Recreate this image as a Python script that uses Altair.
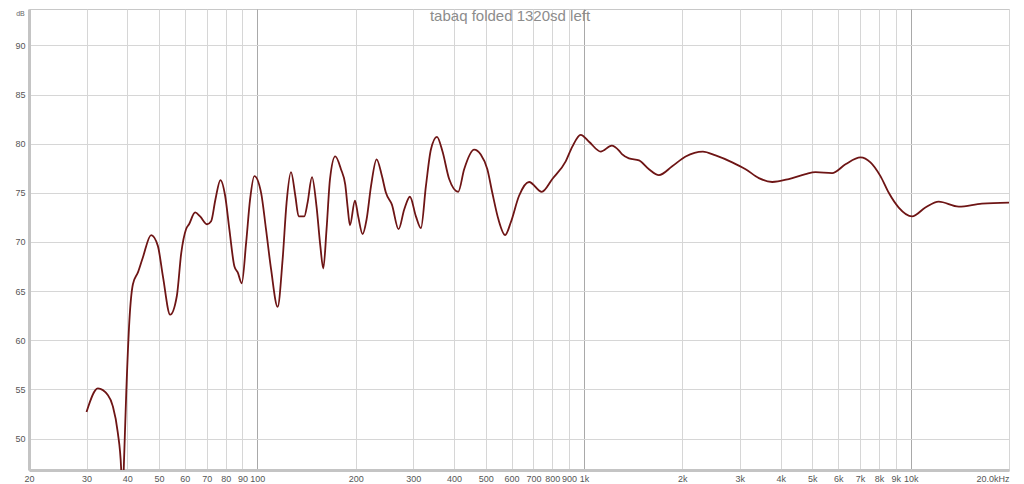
import altair as alt
import pandas as pd

# Frequency response
freq_hz = [30.0, 32.5, 34.9, 36.1, 37.4, 38.3, 38.65, 39.0, 39.7, 40.6, 41.6, 43.1, 44.6, 47.3, 49.6,
           51.4, 54.1, 56.7, 58.5, 60.5, 61.8, 64.5, 66.8, 70.2, 72.2, 74.4, 77.1, 79.7, 82.1, 85.1,
           87.1, 89.6, 92.4, 95.0, 97.9, 102.7, 106.3, 110.2, 115.4, 119.5, 122.9, 126.8, 130.7, 133.8,
           139.2, 142.5, 147, 151.8, 155.9, 159.2, 162.9, 166.9, 173.2, 180.3, 185.9, 188.9, 192.1, 199,
           203.6, 210, 216, 222.9, 231.8, 240.7, 247.6, 258.2, 270.6, 281.6, 293.2, 305.8, 316.8, 328.2,
           339.9, 354.7, 368.9, 386.6, 412, 429.7, 461, 483, 506, 524, 547, 573.6, 597, 632.8, 679,
           742.6, 800, 879, 921, 977, 1036, 1125, 1216, 1280, 1310, 1373, 1474, 1581, 1696, 1862, 2047,
           2312, 2528, 2843, 3124, 3430, 3768, 4236, 4767, 5112, 5746, 6316, 7022, 7532, 8082, 8570,
           9193, 10098, 11092, 12184, 14030, 16526, 20000]
level_db = [52.7, 55.1, 54.4, 53.3, 50.6, 46.9, 42.0, 46.9, 54.7, 62.1, 65.7, 66.9, 68.4, 70.7, 69.6,
            66.5, 62.6, 64.5, 68.9, 71.3, 71.8, 73.0, 72.6, 71.8, 72.1, 74.3, 76.3, 74.7, 71.3, 67.5,
            66.9, 65.8, 69.9, 74.3, 76.7, 75.0, 71.3, 67.2, 63.4, 68.2, 74.0, 77.1, 74.7, 72.6,
            72.6, 74.0, 76.6, 73.6, 69.6, 67.3, 71.3, 76.4, 78.7, 77.4, 75.8, 73.6, 71.7, 74.2,
            72.6, 70.8, 72.3, 75.7, 78.4, 76.7, 75.0, 73.8, 71.3, 73.3, 74.6, 72.6, 71.4, 75.7,
            79.4, 80.7, 79.2, 76.4, 75.1, 77.4, 79.4, 78.9, 77.4, 75.0, 72.3, 70.7, 72.0, 74.7, 76.1,
            75.1, 76.4, 78.2, 79.7, 80.9, 80.2, 79.2, 79.8, 79.3, 78.9, 78.5, 78.3, 77.4, 76.8, 77.7, 78.7,
            79.2, 78.8, 78.1, 77.4, 76.5, 76.1, 76.4, 76.9, 77.1, 77.0, 77.9, 78.6, 78.1, 76.7, 75.0,
            73.5, 72.6, 73.5, 74.1, 73.6, 73.9, 74.0]

x_tick_values = [20, 30, 40, 50, 60, 70, 80, 90, 100, 200, 300, 400, 500, 600, 700, 800, 900,
                 1000, 2000, 3000, 4000, 5000, 6000, 7000, 8000, 9000, 10000, 20000]
x_tick_labels = ["20", "30", "40", "50", "60", "70", "80", "90", "100", "200", "300", "400", "500",
                 "600", "700", "800", "900", "1k", "2k", "3k", "4k", "5k", "6k", "7k", "8k", "9k",
                 "10k", "20.0kHz"]
y_tick_values = [50, 55, 60, 65, 70, 75, 80, 85, 90]
major_lines = [100, 1000, 10000]

title_text = ["tabaq folded 1320sd left"]

df = pd.DataFrame({"f": freq_hz, "db": level_db})
title_df = pd.DataFrame({"t": title_text})

label_expr = "''"
for v, lab in zip(reversed(x_tick_values), reversed(x_tick_labels)):
    label_expr = f"datum.value == {v} ? '{lab}' : ({label_expr})"

major_test = " || ".join(f"datum.value == {v}" for v in major_lines)

FONT = "Liberation Sans Narrow, Liberation Sans, Arial, sans-serif"

line = alt.Chart(df).mark_line(
    color="#6e1515", strokeWidth=1.8, interpolate="monotone", clip=True
).encode(
    x=alt.X("f:Q",
            scale=alt.Scale(type="log", domain=[20, 20000], nice=False),
            axis=alt.Axis(values=x_tick_values, labelExpr=label_expr, title=None,
                          grid=True,
                          gridColor=alt.condition(major_test, alt.value("#a9a9a9"), alt.value("#d6d6d6")),
                          gridWidth=1,
                          ticks=False, domain=True, domainColor="#c4c4c4", domainWidth=3,
                          labelPadding=4, labelFontSize=9, labelColor="#555555", labelFont=FONT,
                          labelAlign=alt.condition("datum.value >= 20000", alt.value("right"), alt.value("center")),
                          labelOverlap=False)),
    y=alt.Y("db:Q",
            scale=alt.Scale(domain=[46.8, 93.7], nice=False, zero=False),
            axis=alt.Axis(values=y_tick_values, title="dB", titleAngle=0, titleX=-9, titleY=4,
                          titleAlign="center", titleBaseline="middle", titleFontSize=7,
                          titleFontWeight="normal", titleColor="#666666", titleFont=FONT,
                          grid=True, gridColor="#d6d6d6", gridWidth=1,
                          ticks=False, domain=True, domainColor="#c4c4c4", domainWidth=3,
                          labelPadding=4, labelFontSize=9, labelColor="#555555", labelFont=FONT)),
)

title_mark = alt.Chart(title_df).mark_text(
    fontSize=15, font=FONT, color="#8c8c8c", align="center", baseline="middle"
).encode(
    text="t:N",
    x=alt.value(481),
    y=alt.value(7),
)

chart = alt.layer(line, title_mark).properties(
    width=980, height=461,
    autosize=alt.AutoSizeParams(type="none"),
    padding={"left": 21, "top": 1, "right": 6, "bottom": 12},
    background="white",
).configure_view(stroke="#c8c8c8", strokeWidth=1)

chart.save("out.html", embed_options={"renderer": "svg", "actions": False})
